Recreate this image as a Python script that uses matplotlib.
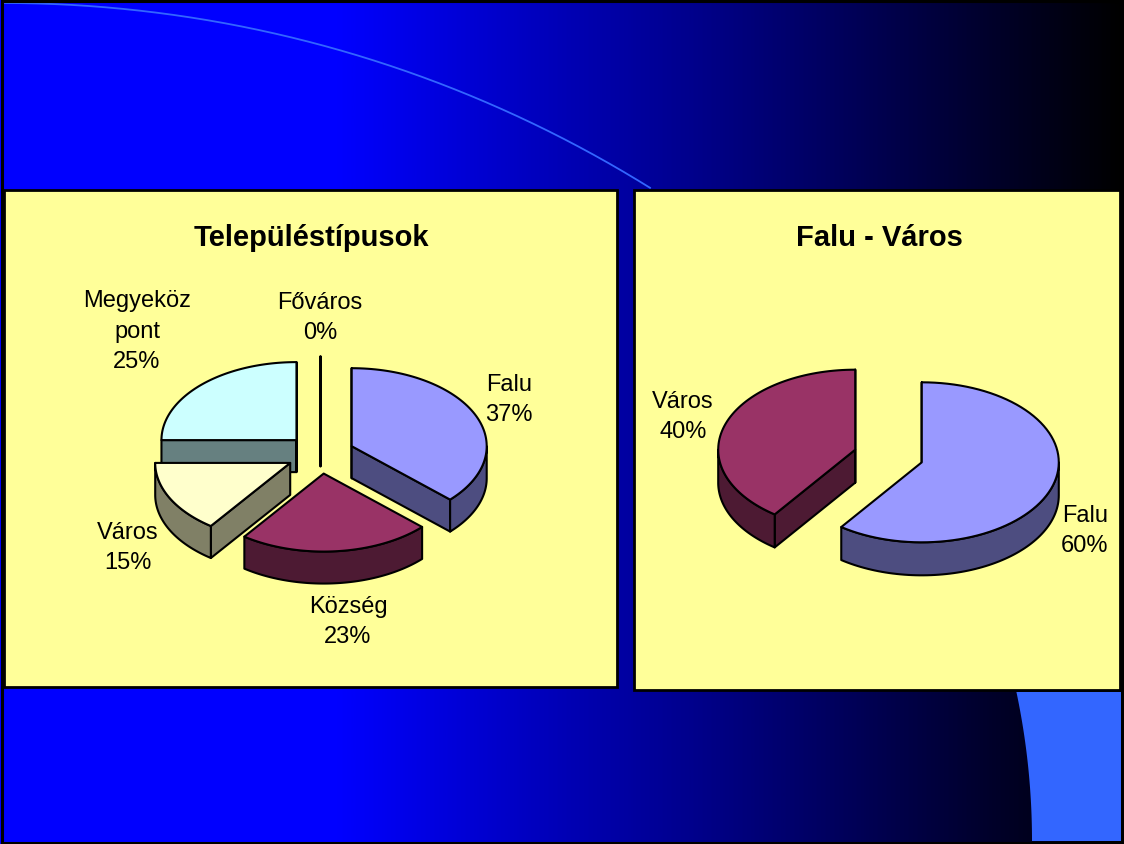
import numpy as np
import matplotlib
matplotlib.use("Agg")
import matplotlib.pyplot as plt
from matplotlib.patches import Polygon, Rectangle
from matplotlib.colors import LinearSegmentedColormap

plt.rcParams["font.family"] = ["Liberation Sans", "DejaVu Sans"]

W, H = 1124, 845

# data
left_title = "Településtípusok"
left_order = ["Falu", "Község", "Város", "Megyeköz\npont", "Főváros"]  # clockwise from 12 o'clock
left_values = [37, 23, 15, 25, 0]

right_title = "Falu - Város"
right_order = ["Falu", "Város"]
right_values = [60, 40]

# colours (top, side)
left_colors = [("#9999FF", "#4D4D80"), ("#993366", "#4D1A33"), ("#FFFFCC", "#808066"),
               ("#CCFFFF", "#668080"), ("#CCFFCC", "#668066")]
right_colors = [("#9999FF", "#4D4D80"), ("#993366", "#4D1A33")]
panel_color = "#FFFF99"
accent = "#3366FF"

fig = plt.figure(figsize=(W / 100, H / 100), dpi=100)
ax = fig.add_axes([0, 0, 1, 1])
ax.axis("off")

# background
cmap = LinearSegmentedColormap.from_list("bg", [(0, "#0000FF"), (0.3, "#0000FF"), (1, "#000000")])
ax.imshow(np.linspace(0, 1, 512)[None, :], cmap=cmap, extent=[0, W, H, 0], aspect="auto", zorder=0)
ax.set_xlim(0, W)
ax.set_ylim(H, 0)

# thin arc top left
R = 1225
t = np.linspace(0, np.arcsin(647 / R), 200)
ax.plot(3 + R * np.sin(t), 4 + R - R * np.cos(t), color=accent, lw=1.3, zorder=1)

# corner shape bottom right
yy = np.linspace(693, 842, 60)
r2 = 720
xx = 1032 - (r2 - np.sqrt(r2 ** 2 - (842 - yy) ** 2))
corner = list(zip(xx, yy)) + [(1121, 842), (1121, 693)]
ax.add_patch(Polygon(corner, closed=True, facecolor=accent, edgecolor="none", zorder=1))

# slide border
ax.add_patch(Rectangle((1.5, 1.5), W - 3, H - 3, fill=False, edgecolor="black", lw=2.2, zorder=5))

# panels
ax.add_patch(Rectangle((4, 191), 613, 497, facecolor=panel_color, edgecolor="black", lw=2, zorder=2))
ax.add_patch(Rectangle((634, 191), 486, 500, facecolor=panel_color, edgecolor="black", lw=2, zorder=2))


def arc(cx, cy, rx, ry, a0, a1, n=80):
    # angles in degrees, clockwise from 12 o'clock
    a = np.radians(np.linspace(a0, a1, n))
    return np.column_stack([cx + rx * np.sin(a), cy - ry * np.cos(a)])


def pie3d(values, colors, cx, cy, rx, ry, depth, explode):
    total = sum(values)
    squash = ry / rx
    slices = []
    start = 0
    for v, c in zip(values, colors):
        end = start + v / total * 360
        mid = np.radians((start + end) / 2)
        ax0 = cx + explode * np.sin(mid)
        ay0 = cy - explode * squash * np.cos(mid)
        slices.append((ay0, ax0, c, start, end))
        start = end

    # back slices first
    for ay0, ax0, (top_c, side_c), a0, a1 in sorted(slices, key=lambda s: s[0]):
        style = dict(edgecolor="black", lw=1.5, joinstyle="round", zorder=3, snap=False)
        down = np.array([0, depth])
        apex = np.array([ax0, ay0])

        # cut faces that look at the viewer
        for ang, sign in ((a0, -1), (a1, 1)):
            if sign * np.sin(np.radians(ang)) >= -1e-9:
                p = arc(ax0, ay0, rx, ry, ang, ang, 1)[0]
                ax.add_patch(Polygon([apex, p, p + down, apex + down], closed=True, facecolor=side_c, **style))

        # outer wall, front half only
        w0, w1 = max(a0, 90), min(a1, 270)
        if w1 > w0:
            edge = arc(ax0, ay0, rx, ry, w0, w1)
            ax.add_patch(Polygon(np.vstack([edge, (edge + down)[::-1]]), closed=True, facecolor=side_c, **style))

        top = np.vstack([apex, arc(ax0, ay0, rx, ry, a0, a1)])
        ax.add_patch(Polygon(top, closed=True, facecolor=top_c, **style))


pie3d(left_values, left_colors, 320.5, 455, 135, 78, 32, 34)
pie3d(right_values, right_colors, 888.5, 457, 137, 80, 33, 35)

# titles
ax.text(311, 235, left_title, ha="center", va="center_baseline", fontsize=21, fontweight="bold", zorder=4)
ax.text(879, 235, right_title, ha="center", va="center_baseline", fontsize=21, fontweight="bold", zorder=4)

# labels
left_label_pos = [(509, 400), (348, 622), (128, 548), (137, 332), (320, 318)]
right_label_pos = [(1085, 531), (683, 417)]
for names, values, positions in ((left_order, left_values, left_label_pos),
                                 (right_order, right_values, right_label_pos)):
    for name, v, (x, y) in zip(names, values, positions):
        ax.text(x, y, f"{name}\n{v}%", ha="center", va="center", fontsize=17, linespacing=1.5, zorder=4)

fig.savefig("out.png", dpi=100)
